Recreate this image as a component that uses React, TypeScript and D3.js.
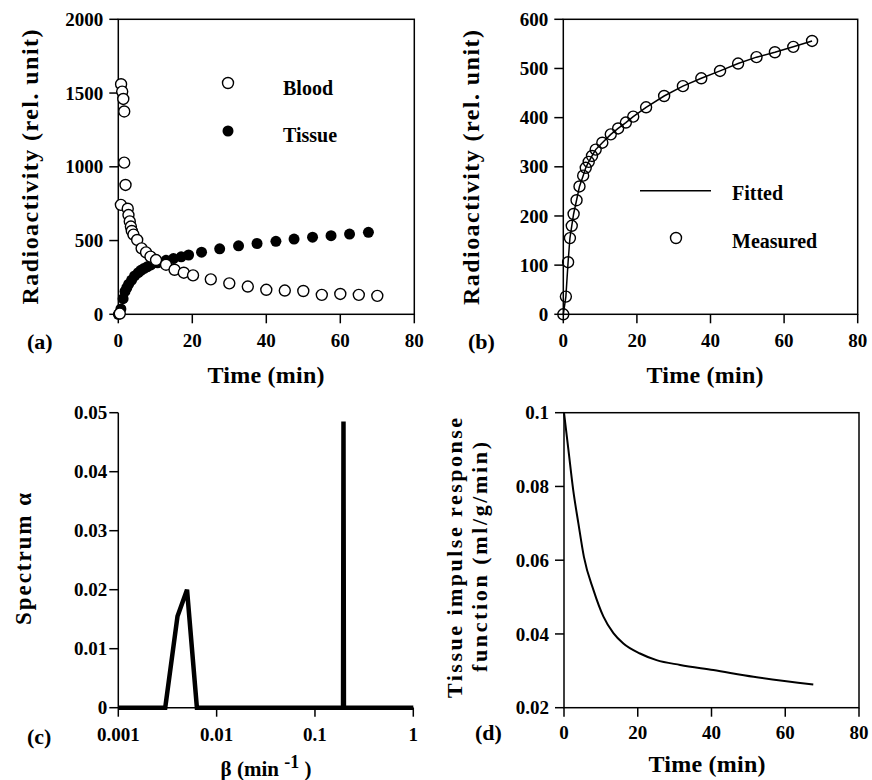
import React from 'react';
import * as d3 from 'd3';

// ---------- data ----------
const bloodTime = [0.4, 0.75, 1.05, 1.35, 1.6, 1.6, 1.95, 0.7, 2.55, 2.75, 3.1, 3.4, 3.65, 4.1, 5.1, 6.3, 7.5, 8.7, 10.2, 12.9, 15.2, 17.7, 20.2, 25, 30, 35, 40, 45, 50, 55, 60, 65, 70];
const bloodValue = [5, 1560, 1510, 1460, 1375, 1028, 877, 742, 716, 673, 630, 595, 565, 540, 504, 447, 420, 391, 368, 336, 302, 282, 264, 237, 210, 188, 166, 161, 158, 132, 138, 132, 125];

const tissueTime = [0, 0.7, 1.3, 1.8, 2.3, 2.8, 3.6, 4.4, 5.4, 6.1, 6.9, 7.8, 8.8, 10.6, 12.9, 14.9, 17.0, 19.0, 22.5, 27.4, 32.5, 37.5, 42.6, 47.5, 52.5, 57.5, 62.5, 67.6];
const tissueValue = [0, 36, 106, 155, 180, 204, 232, 260, 282, 298, 310, 322, 335, 349, 366, 378, 390, 402, 421, 444, 464, 480, 495, 510, 523, 533, 544, 556];

const fittedTime = [0, 0.7, 1.3, 1.8, 2.3, 2.8, 3.6, 4.4, 5.4, 6.1, 6.9, 7.8, 8.8, 10.6, 12.9, 14.9, 17.0, 19.0, 22.5, 27.4, 32.5, 37.5, 42.6, 47.5, 52.5, 57.5, 62.5, 67.6];
const fittedValue = [0, 36, 106, 155, 180, 204, 232, 260, 282, 298, 310, 322, 335, 349, 366, 378, 390, 402, 421, 444, 464, 480, 495, 510, 523, 533, 544, 556];

const betaValues = [0.001, 0.003, 0.004, 0.005, 0.0063, 0.193, 0.195, 0.197, 1];
const alphaValues = [0, 0, 0.0155, 0.02, 0, 0, 0.0485, 0, 0];

const irfTime = [0, 1.2, 2.5, 3.9, 5.4, 8.0, 10.7, 13.4, 16.1, 20.6, 25.1, 31.5, 40.5, 51.4, 67.6];
const irfValue = [0.1, 0.0899, 0.079, 0.070, 0.0609, 0.0519, 0.0447, 0.0402, 0.0374, 0.0347, 0.0329, 0.0316, 0.0302, 0.0284, 0.0263];

const timeTicks = [0, 20, 40, 60, 80];
const ticksA = [0, 500, 1000, 1500, 2000];
const ticksB = [0, 100, 200, 300, 400, 500, 600];
const ticksCx = [0.001, 0.01, 0.1, 1];
const ticksCy = [0, 0.01, 0.02, 0.03, 0.04, 0.05];
const ticksDy = [0.02, 0.04, 0.06, 0.08, 0.1];

const FONT = "'Liberation Serif', 'Times New Roman', serif";

type FrameProps = {
  xs: any; ys: any; xTicks: number[]; yTicks: number[];
  xFmt: (v: number) => string; yFmt: (v: number) => string;
  box: boolean; xLabelBase: number; yLabelGap?: number; tickLen?: number;
};

function Frame({ xs, ys, xTicks, yTicks, xFmt, yFmt, box, xLabelBase, yLabelGap = 15, tickLen = 9 }: FrameProps) {
  const [x0, x1] = xs.range();
  const [yb, yt] = ys.range();
  return (
    <g fontFamily={FONT} fontWeight="bold" fontSize={19} fill="#000">
      {box ? (
        <rect x={x0} y={yt} width={x1 - x0} height={yb - yt} fill="none" stroke="#000" strokeWidth={1.5} />
      ) : (
        <g stroke="#000" strokeWidth={1.5}>
          <line x1={x0} y1={yt} x2={x0} y2={yb} />
          <line x1={x0} y1={yb} x2={x1} y2={yb} />
        </g>
      )}
      {yTicks.map((v) => (
        <g key={'y' + v}>
          <line x1={x0 - tickLen} x2={x0} y1={ys(v)} y2={ys(v)} stroke="#000" strokeWidth={1.5} />
          <text x={x0 - yLabelGap} y={ys(v)} dy="0.35em" textAnchor="end">{yFmt(v)}</text>
        </g>
      ))}
      {xTicks.map((v) => (
        <g key={'x' + v}>
          <line x1={xs(v)} x2={xs(v)} y1={yb} y2={yb + tickLen} stroke="#000" strokeWidth={1.5} />
          <text x={xs(v)} y={xLabelBase} textAnchor="middle">{xFmt(v)}</text>
        </g>
      ))}
    </g>
  );
}

function VTitle({ x, y, len, size, children }: any) {
  return (
    <text transform={`translate(${x},${y}) rotate(-90)`} textAnchor="middle" fontFamily={FONT}
      fontWeight="bold" fontSize={size} textLength={len} lengthAdjust="spacing">{children}</text>
  );
}

function HTitle({ x, y, len, size, children }: any) {
  return (
    <text x={x} y={y} textAnchor="middle" fontFamily={FONT} fontWeight="bold" fontSize={size}
      textLength={len} lengthAdjust="spacing">{children}</text>
  );
}

function PanelLabel({ x, y, children }: any) {
  return <text x={x} y={y} fontFamily={FONT} fontWeight="bold" fontSize={22}>{children}</text>;
}

export default function App() {
  // Panel a
  const xa = d3.scaleLinear().domain([0, 80]).range([118.3, 414.3]);
  const ya = d3.scaleLinear().domain([0, 2000]).range([314.3, 19.3]);
  // Panel b
  const xb = d3.scaleLinear().domain([0, 80]).range([563.3, 857.7]);
  const yb = d3.scaleLinear().domain([0, 600]).range([314.3, 19.3]);
  // Panel c
  const xc = d3.scaleLog().domain([0.001, 1]).range([118.3, 413.3]);
  const yc = d3.scaleLinear().domain([0, 0.05]).range([707.7, 412.7]);
  // Panel d
  const xd = d3.scaleLinear().domain([0, 80]).range([564, 859]);
  const yd = d3.scaleLinear().domain([0.02, 0.1]).range([707.7, 412.7]);

  const fittedLine = d3.line<number>().x((_, i) => xb(fittedTime[i])).y((d) => yb(d));
  const specLine = d3.line<number>().x((_, i) => xc(betaValues[i])).y((d) => yc(d));
  const irfLine = d3.line<number>().x((_, i) => xd(irfTime[i])).y((d) => yd(d)).curve(d3.curveMonotoneX);

  const fmtInt = (v: number) => String(v);
  const fmtDec = (v: number) => (v === 0 ? '0' : String(v));

  const R = 5.5;

  return (
    <svg width={872} height={780} style={{ position: 'absolute', left: 0, top: 0, display: 'block' }}>
      <rect x={0} y={0} width={872} height={780} fill="#fff" />

      {/* ---------- Panel (a) ---------- */}
      <Frame xs={xa} ys={ya} xTicks={timeTicks} yTicks={ticksA} xFmt={fmtInt} yFmt={fmtInt} box xLabelBase={347} />
      <g>
        {tissueValue.map((v, i) => (
          <circle key={'ta' + i} cx={xa(tissueTime[i])} cy={ya(v)} r={R} fill="#000" />
        ))}
        {bloodValue.map((v, i) => (
          <circle key={'ba' + i} cx={xa(bloodTime[i])} cy={ya(v)} r={R} fill="#fff" stroke="#000" strokeWidth={1.4} />
        ))}
      </g>
      <circle cx={228} cy={83} r={R} fill="#fff" stroke="#000" strokeWidth={1.4} />
      <text x={283} y={95} fontFamily={FONT} fontWeight="bold" fontSize={20}>Blood</text>
      <circle cx={228} cy={131} r={R} fill="#000" />
      <text x={283} y={142} fontFamily={FONT} fontWeight="bold" fontSize={20}>Tissue</text>
      <VTitle x={38} y={167} len={275} size={24}>Radioactivity (rel. unit)</VTitle>
      <HTitle x={266} y={383} len={117} size={24}>Time (min)</HTitle>
      <PanelLabel x={27} y={349}>(a)</PanelLabel>

      {/* ---------- Panel (b) ---------- */}
      <Frame xs={xb} ys={yb} xTicks={timeTicks} yTicks={ticksB} xFmt={fmtInt} yFmt={fmtInt} box xLabelBase={347} />
      <path d={fittedLine(fittedValue) || ''} fill="none" stroke="#000" strokeWidth={1.5} />
      {tissueValue.map((v, i) => (
        <circle key={'tb' + i} cx={xb(tissueTime[i])} cy={yb(v)} r={R} fill="none" stroke="#000" strokeWidth={1.4} />
      ))}
      <line x1={640} x2={711} y1={190.7} y2={190.7} stroke="#000" strokeWidth={1.5} />
      <text x={732} y={200} fontFamily={FONT} fontWeight="bold" fontSize={20}>Fitted</text>
      <circle cx={676} cy={238} r={R} fill="#fff" stroke="#000" strokeWidth={1.4} />
      <text x={732} y={248} fontFamily={FONT} fontWeight="bold" fontSize={20}>Measured</text>
      <VTitle x={479} y={167.5} len={275} size={24}>Radioactivity (rel. unit)</VTitle>
      <HTitle x={705} y={383} len={117} size={24}>Time (min)</HTitle>
      <PanelLabel x={468} y={349}>(b)</PanelLabel>

      {/* ---------- Panel (c) ---------- */}
      <Frame xs={xc} ys={yc} xTicks={ticksCx} yTicks={ticksCy} xFmt={fmtDec} yFmt={fmtDec} box={false}
        xLabelBase={741} yLabelGap={11} tickLen={9} />
      <path d={specLine(alphaValues) || ''} fill="none" stroke="#000" strokeWidth={4.5} strokeLinejoin="miter" />
      <VTitle x={31} y={559} len={132} size={23}>Spectrum α</VTitle>
      <text x={266} y={776} textAnchor="middle" fontFamily={FONT} fontWeight="bold" fontSize={21}>
        <tspan>β (min </tspan>
        <tspan fontSize={18} dy={-8}>-1</tspan>
        <tspan dy={8}> )</tspan>
      </text>
      <PanelLabel x={27} y={744}>(c)</PanelLabel>

      {/* ---------- Panel (d) ---------- */}
      <Frame xs={xd} ys={yd} xTicks={timeTicks} yTicks={ticksDy} xFmt={fmtInt} yFmt={fmtDec} box xLabelBase={739} />
      <path d={irfLine(irfValue) || ''} fill="none" stroke="#000" strokeWidth={2} />
      <VTitle x={462} y={558} len={280} size={22}>Tissue impulse response</VTitle>
      <VTitle x={487} y={557} len={230} size={22}>function (ml/g/min)</VTitle>
      <HTitle x={707} y={772} len={117} size={24}>Time (min)</HTitle>
      <PanelLabel x={475} y={740}>(d)</PanelLabel>
    </svg>
  );
}
